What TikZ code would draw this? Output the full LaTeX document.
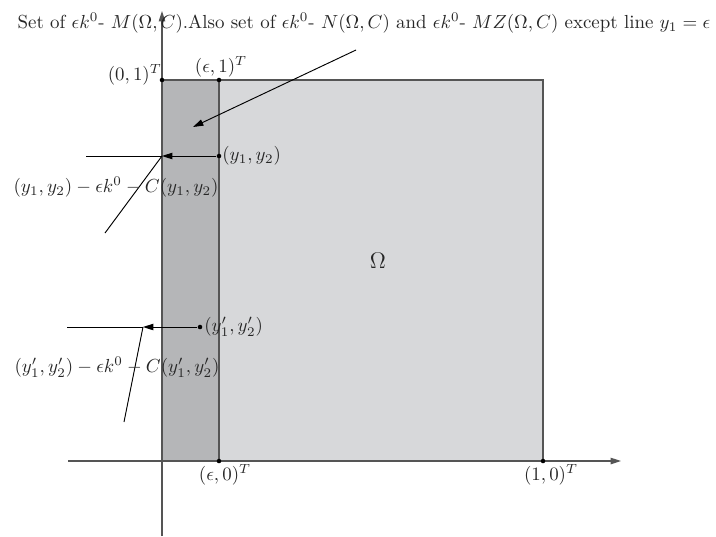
\documentclass[tikz,border=0pt]{standalone}
\usetikzlibrary{arrows.meta}
\definecolor{lightfill}{RGB}{215,216,218}
\definecolor{darkfill}{RGB}{181,182,184}
\definecolor{edgegray}{RGB}{85,85,85}
\begin{document}
\begin{tikzpicture}[x=0.529pt,y=-0.529pt,
  axis/.style={draw=edgegray,line width=0.6pt,-{Triangle[length=5.5pt,width=3.4pt]}},
  edge/.style={draw=edgegray,line width=0.7pt},
  ptr/.style={draw=black,line width=0.5pt},
  ptrarrow/.style={draw=black,line width=0.5pt,-{Triangle[length=5.5pt,width=3.4pt]}},
  dotmark/.style={circle,fill=black,inner sep=0pt,minimum size=2.4pt},
  lbl/.style={inner sep=1pt,text=black!85}]
\useasboundingbox (0,0) rectangle (716,536);
% regions
\fill[lightfill] (162,80) rectangle (543,461);
\fill[darkfill] (162,80) rectangle (219,461);
\draw[edge] (162,80) rectangle (543,461);
\draw[edge] (219,80) -- (219,461);
% axes
\coordinate (xs) at (68,461);
\coordinate (xe) at (621,461);
\coordinate (ys) at (162,536);
\coordinate (ye) at (162,11);
\draw[axis] (xs) -- (xe);
\draw[axis] (ys) -- (ye);
% corner points
\node[dotmark] (p01) at (162,80) {};
\node[dotmark] (pe1) at (219,80) {};
\node[dotmark] (pe0) at (219,461) {};
\node[dotmark] (p10) at (543,461) {};
\node[lbl,anchor=south east] (l01) at (164,87) {$(0,1)^T$};
\node[lbl,anchor=south] (le1) at (221,79) {$(\epsilon,1)^T$};
\node[lbl,anchor=north] (le0) at (225,462) {$(\epsilon,0)^T$};
\node[lbl,anchor=north] (l10) at (551,462) {$(1,0)^T$};
\node[lbl] (omega) at (378,261) {\large$\Omega$};
% top label
\node[lbl] (top) at (364,23) {Set of $\epsilon k^0$- $M(\Omega,C)$.Also set of $\epsilon k^0$- $N(\Omega,C)$ and $\epsilon k^0$- $MZ(\Omega,C)$ except line $y_1=\epsilon$};
\coordinate (topfoot) at (356,50);
\coordinate (striptgt) at (193,127);
\draw[ptrarrow] (topfoot) -- (striptgt);
% point y
\node[dotmark] (y) at (219,156) {};
\coordinate (yproj) at (162,156);
\coordinate (yleft) at (86,156);
\coordinate (yfoot) at (105,233);
\draw[ptr] (yproj) -- (yleft);
\draw[ptrarrow] (y) -- (yproj);
\draw[ptr] (yproj) -- (yfoot);
\node[lbl,anchor=west] (ylbl) at (220,156) {$(y_1,y_2)$};
\node[lbl] (yexpr) at (116,187) {$(y_1,y_2)-\epsilon k^0-C(y_1,y_2)$};
% point y'
\node[dotmark] (yp) at (200,327) {};
\coordinate (ypproj) at (143,327);
\coordinate (ypleft) at (67,327);
\coordinate (ypfoot) at (124,422);
\draw[ptr] (ypproj) -- (ypleft);
\draw[ptrarrow] (yp) -- (ypproj);
\draw[ptr] (ypproj) -- (ypfoot);
\node[lbl,anchor=west] (yplbl) at (202,327) {$(y_1',y_2')$};
\node[lbl] (ypexpr) at (117,367) {$(y_1',y_2')-\epsilon k^0-C(y_1',y_2')$};
\end{tikzpicture}
\end{document}
